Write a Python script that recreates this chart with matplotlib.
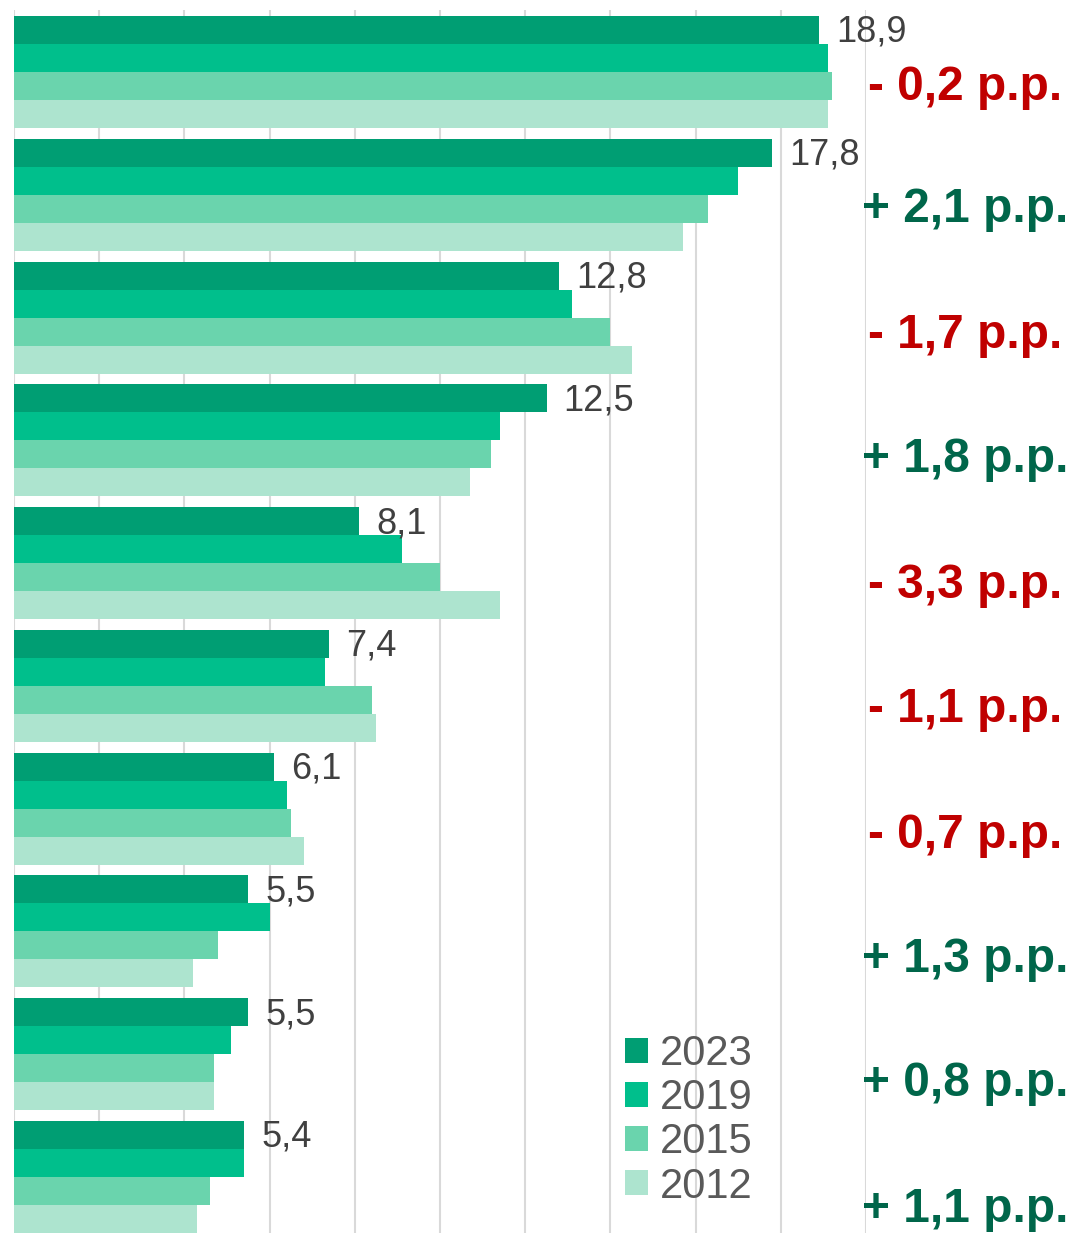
import matplotlib.pyplot as plt
import numpy as np

plt.rcParams['font.family'] = ['Liberation Sans', 'DejaVu Sans']

# values per group (top to bottom)
years = ['2023', '2019', '2015', '2012']
v2023 = [18.9, 17.8, 12.8, 12.5, 8.1, 7.4, 6.1, 5.5, 5.5, 5.4]
v2019 = [19.1, 17.0, 13.1, 11.4, 9.1, 7.3, 6.4, 6.0, 5.1, 5.4]
v2015 = [19.2, 16.3, 14.0, 11.2, 10.0, 8.4, 6.5, 4.8, 4.7, 4.6]
v2012 = [19.1, 15.7, 14.5, 10.7, 11.4, 8.5, 6.8, 4.2, 4.7, 4.3]
labels_2023 = ['18,9', '17,8', '12,8', '12,5', '8,1', '7,4', '6,1', '5,5', '5,5', '5,4']
changes = ['- 0,2 p.p.', '+ 2,1 p.p.', '- 1,7 p.p.', '+ 1,8 p.p.', '- 3,3 p.p.',
           '- 1,1 p.p.', '- 0,7 p.p.', '+ 1,3 p.p.', '+ 0,8 p.p.', '+ 1,1 p.p.']

colors = ['#009E73', '#00BF8C', '#6AD4AD', '#ADE4CF']
series = [v2023, v2019, v2015, v2012]

W, H = 1073, 1233
fig = plt.figure(figsize=(W / 100, H / 100), dpi=100)
ax = fig.add_axes([14 / W, 0, (866 - 14) / W, (H - 10) / H])

n = len(v2023)
pos = np.arange(n)
h = 0.228
for k, (vals, c) in enumerate(zip(series, colors)):
    ax.barh(pos + (k - 1.5) * h, vals, height=h, color=c, label=years[k], zorder=3)

# value labels next to the 2023 bars
for i, (v, lab) in enumerate(zip(v2023, labels_2023)):
    ax.text(v + 0.4, pos[i] - 1.5 * h + 0.02, lab, va='center', ha='left',
            fontsize=26, color='#404040', zorder=4)

ax.set_xlim(0, 20)
ax.set_ylim(9.456, -0.505)
ax.set_xticks(np.arange(0, 21, 2))
ax.grid(axis='x', color='#D9D9D9', linewidth=1.5, zorder=0)
ax.tick_params(left=False, bottom=False, labelleft=False, labelbottom=False)
for s in ax.spines.values():
    s.set_visible(False)

# change annotations on the right
ann_y = [87, 210, 335, 460, 585, 710, 835, 960, 1084, 1209]
for t, yp in zip(changes, ann_y):
    col = '#C00000' if t.startswith('-') else '#00664A'
    fig.text(965 / W, 1 - yp / H, t, ha='center', va='center',
             fontsize=34.5, fontweight='bold', color=col)

leg = ax.legend(loc='upper left', bbox_to_anchor=(625 / W, 1 - 1034 / H),
                bbox_transform=fig.transFigure, frameon=False, fontsize=30,
                handlelength=0.55, handleheight=0.55, handletextpad=0.28,
                labelspacing=0.1, borderpad=0.0, borderaxespad=0)
for t in leg.get_texts():
    t.set_color('#595959')

fig.savefig('out.png', dpi=100)
